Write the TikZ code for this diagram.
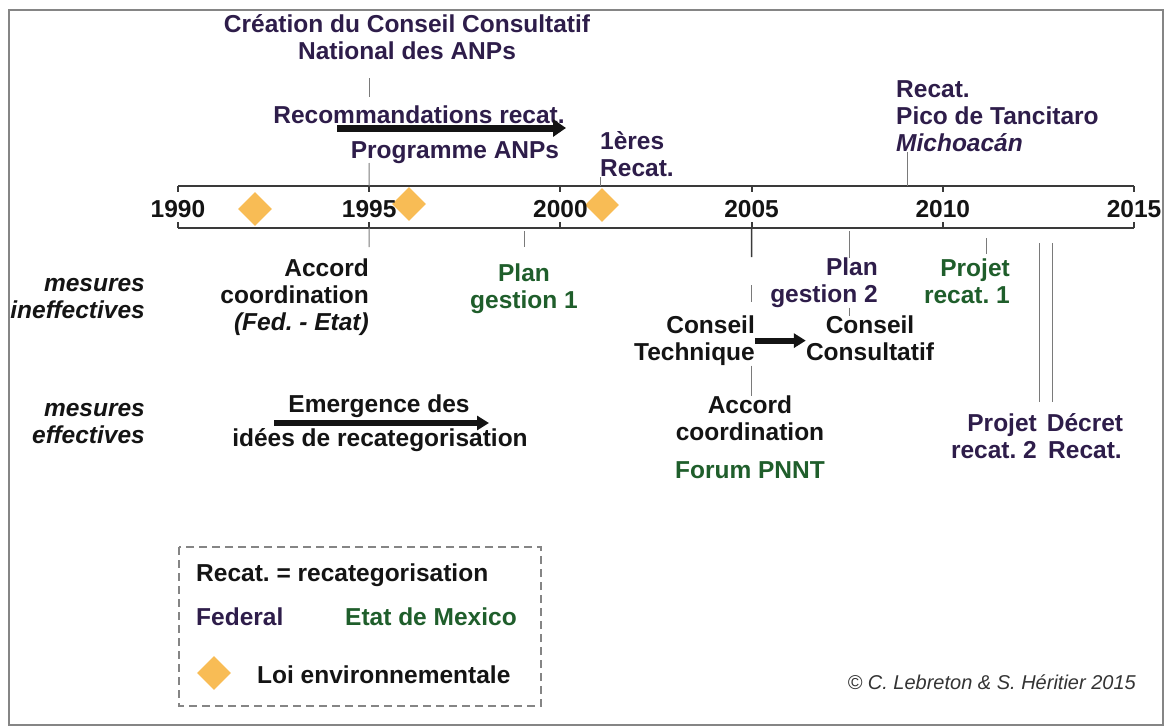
\documentclass[tikz,border=0pt]{standalone}
\usepackage{fontspec}
\setmainfont{Liberation Sans}
\usetikzlibrary{arrows.meta,shapes.geometric}
\definecolor{fedc}{HTML}{2E1D4A}
\definecolor{etatc}{HTML}{1F5E2B}
\definecolor{blkc}{HTML}{141414}
\definecolor{linec}{HTML}{7A7A7A}
\definecolor{axisc}{HTML}{3A3A3A}
\definecolor{diamc}{HTML}{F8BC55}
\definecolor{framec}{HTML}{858585}
\definecolor{copyc}{HTML}{333333}
\frenchspacing
\begin{document}
\begin{tikzpicture}[x=1pt,y=-1pt,
  txt/.style={font=\fontsize{24.5}{27}\selectfont\bfseries\frenchspacing, inner sep=0pt},
  fed/.style={txt, text=fedc},
  etat/.style={txt, text=etatc},
  blk/.style={txt, text=blkc},
  yr/.style={font=\fontsize{24.5}{27}\selectfont\bfseries, inner sep=0pt, text=blkc, anchor=base},
  conn/.style={draw=linec, line width=1pt},
  conndark/.style={draw=axisc, line width=1.3pt},
  axisln/.style={draw=axisc, line width=2pt},
  bigarrow/.style={draw=blkc, line width=7pt, -{Triangle[length=13pt,width=17pt]}},
  midarrow/.style={draw=blkc, line width=6pt, -{Triangle[length=12pt,width=14pt]}},
  diam/.style={diamond, fill=diamc, minimum width=34pt, minimum height=34pt, inner sep=0pt},
]
\useasboundingbox (0,0) rectangle (1165,726);
\draw[framec, line width=2.5pt] (9,10) rectangle (1163,725);

% ---- diamonds (laws)
\node[diam] (d1) at (255,209) {};
\node[diam] (d2) at (409,204) {};
\node[diam] (d3) at (602,205) {};

% ---- axis
\foreach \i/\yr in {0/1990,1/1995,2/2000,3/2005,4/2010,5/2015}{
  \coordinate (top\yr) at ({178+\i*191.2},186);
  \coordinate (bot\yr) at ({178+\i*191.2},228);
  \draw[axisln] (top\yr) -- ++(0,6);
  \draw[axisln] (bot\yr) -- ++(0,-6);
  \node[yr] (y\yr) at ({178+\i*191.2},217) {\yr};
}
\draw[axisln] (top1990) -- (top2015);
\draw[axisln] (bot1990) -- (bot2015);

% ---- above the axis
\node[fed, align=center, anchor=north] (crea) at (407,14.5) {Création du Conseil Consultatif\\National des ANPs};
\node[fed, anchor=base] (recom) at (419,123.6) {Recommandations recat.};
\node[fed, anchor=base] (prog) at (455,158.6) {Programme ANPs};
\coordinate (arA) at (337,128);
\coordinate (arB) at (566,128);
\draw[bigarrow] (arA) -- (arB);
\coordinate (u95a) at (369,78);
\coordinate (u95b) at (369,97);
\coordinate (u95c) at (369,163);
\draw[conn] (u95a) -- (u95b);
\draw[conn] (u95c) -- (top1995);

\node[fed, align=left, anchor=north west] (prem) at (600,131.5) {1ères\\Recat.};
\draw[conn] (prem.south west) -- (prem.south west |- top1990);

\node[fed, align=left, anchor=north west] (pico) at (896,80.5) {Recat.\\Pico de Tancitaro\\\textit{Michoacán}};
\coordinate (tp) at (907,186);
\draw[conn] (pico.south -| tp) -- (tp);

% ---- below the axis, left part
\node[blk, align=right, anchor=north east] (mes1) at (145,278.5) {\itshape mesures\\\itshape ineffectives};
\node[blk, align=right, anchor=north east] (mes2) at (145,403.5) {\itshape mesures\\\itshape effectives};

\coordinate (b95) at (369,247);
\draw[conn] (bot1995) -- (b95);
\node[blk, align=right, anchor=north east] (acc1) at (369,258.5) {Accord\\coordination\\\textit{(Fed. - Etat)}};

\node[etat, align=center, anchor=north] (pg1) at (524,263.5) {Plan\\gestion 1};
\coordinate (p1a) at (524,231);
\coordinate (p1b) at (524,247);
\draw[conn] (p1a) -- (p1b);

\node[blk, anchor=base] (emer) at (379,412.6) {Emergence des};
\node[blk, anchor=base] (idee) at (380,446.6) {idées de recategorisation};
\coordinate (e1) at (274,423);
\coordinate (e2) at (489,423);
\draw[midarrow] (e1) -- (e2);

% ---- 2005 group
\node[blk, align=right, anchor=north east] (ct) at (755,315.5) {Conseil\\Technique};
\node[blk, align=center, anchor=north] (cc) at (870,315.5) {Conseil\\Consultatif};
\draw[midarrow] (ct.east) -- (ct.east -| cc.west);
\node[blk, align=center, anchor=north] (acc2) at (750,395.5) {Accord\\coordination};
\node[etat, anchor=base] (forum) at (750,478.6) {Forum PNNT};
\coordinate (c5a) at (751.6,257);
\coordinate (c5b) at (751.6,285);
\coordinate (c5c) at (751.6,302);
\draw[conndark] (bot2005) -- (c5a);
\draw[conn] (c5b) -- (c5c);
\draw[conn] (ct.south -| c5a) -- (acc2.north -| c5a);

\node[fed, align=right, anchor=north east] (pg2) at (878,257.5) {Plan\\gestion 2};
\coordinate (x49) at (849,231);
\draw[conn] (x49) -- (pg2.north -| x49);
\draw[conn] (pg2.south -| x49) -- (cc.north -| x49);

% ---- 2010+ group
\node[etat, align=right, anchor=north east] (pr1) at (1010,258.5) {Projet\\recat. 1};
\coordinate (x86) at (986,238);
\draw[conn, shorten >=5pt] (x86) -- (x86 |- pr1.north);

\coordinate (l1a) at (1039,243);
\coordinate (l1b) at (1039,402);
\coordinate (l2a) at (1052,243);
\coordinate (l2b) at (1052,402);
\draw[conn] (l1a) -- (l1b);
\draw[conn] (l2a) -- (l2b);
\node[fed, align=right, anchor=north east] (pr2) at (1037,413.5) {Projet\\recat. 2};
\node[fed, align=center, anchor=north] (dec) at (1085,413.5) {Décret\\Recat.};

% ---- legend
\draw[draw=framec, line width=1.2pt, dash pattern=on 8pt off 5pt] (179,547) rectangle (541,706);
\node[blk, anchor=base west] (lg1) at (196,581.6) {Recat. = recategorisation};
\node[fed, anchor=base west] (lg2) at (196,625.6) {Federal};
\node[etat, anchor=base west] (lg3) at (345,625.6) {Etat de Mexico};
\node[diam] (lgd) at (214,673) {};
\node[blk, anchor=base west] (lg4) at (257,683.6) {Loi environnementale};

% ---- copyright
\node[inner sep=0pt, anchor=base east, text=copyc, font=\fontsize{20}{24}\selectfont\itshape] (copy) at (1136,689) {© C. Lebreton \& S. Héritier 2015};
\end{tikzpicture}
\end{document}
